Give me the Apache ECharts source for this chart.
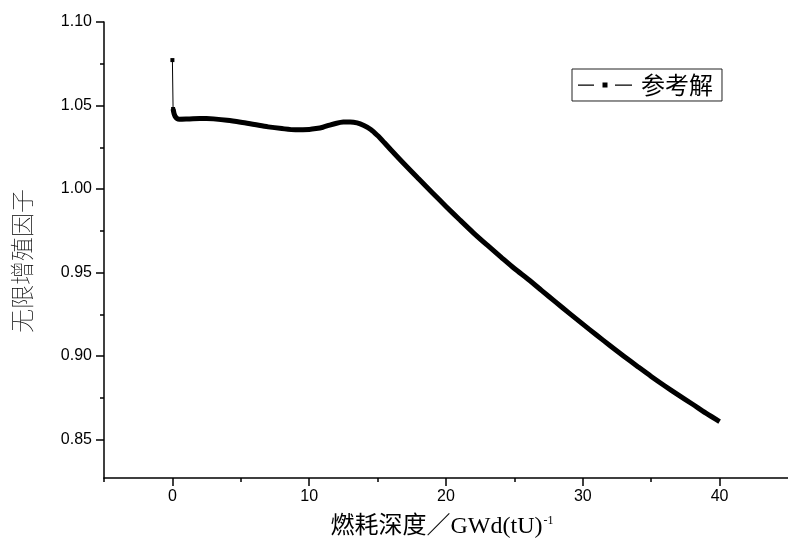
<!DOCTYPE html>
<html>
<head>
<meta charset="utf-8">
<script src="https://cdn.jsdelivr.net/npm/echarts@6/dist/echarts.min.js"></script>
<style>
  html, body { margin: 0; padding: 0; background: #fff; }
  #chart { width: 788px; height: 549px; }
</style>
</head>
<body>
<div id="chart"></div>
<script>
// Burnup (GWd/tU) and infinite multiplication factor of the reference solution
const burnup = [
  0, 0.05, 0.2, 0.5, 1.0, 1.5, 2.0, 2.5, 3.0, 4.0, 5.0, 6.0, 7.0, 8.0, 9.0,
  10.0, 10.5, 11.0, 11.5, 12.0, 12.5, 13.0, 13.5, 14.0, 14.5, 15.0, 15.5, 16.0,
  17.0, 18.0, 19.0, 20.0, 21.0, 22.0, 23.0, 24.0, 25.0, 26.0, 27.0, 28.0, 29.0,
  30.0, 31.0, 32.0, 33.0, 34.0, 35.0, 36.0, 37.0, 38.0, 39.0, 40.0
];
const kinf = [
  1.0772, 1.0479, 1.0435, 1.0418, 1.0419, 1.0421, 1.0422, 1.0422, 1.0420, 1.0412, 1.0400, 1.0386, 1.0372, 1.0362, 1.0355,
  1.0357, 1.0362, 1.0370, 1.0383, 1.0394, 1.0401, 1.0402, 1.0396, 1.0380, 1.0357, 1.0320, 1.0277, 1.0232,
  1.0145, 1.0061, 0.9978, 0.9896, 0.9816, 0.9738, 0.9665, 0.9594, 0.9524, 0.9460, 0.9392, 0.9324, 0.9257,
  0.9191, 0.9126, 0.9062, 0.8999, 0.8938, 0.8878, 0.8821, 0.8766, 0.8713, 0.8658, 0.8608
];

// Axis tick values
const xMajor = [0, 10, 20, 30, 40];
const xMinor = [-5, 5, 15, 25, 35];
const yMajor = [0.85, 0.90, 0.95, 1.00, 1.05, 1.10];
const yMinor = [0.875, 0.925, 0.975, 1.025, 1.075];

const seriesName = '参考解';
const xTitle = '燃耗深度／GWd(tU){sup|-1}';
const yTitle = '无限增殖因子';

const points = burnup.map((b, i) => [b, kinf[i]]);

const labelFont = '"Liberation Sans", Arial, sans-serif';
const cjkFont = '"Noto Sans CJK SC", sans-serif';
const axisLineStyle = { color: '#000', width: 1.5 };

const chart = echarts.init(document.getElementById('chart'), null, { renderer: 'canvas' });

chart.setOption({
  animation: false,
  backgroundColor: '#fff',
  grid: { left: 104, top: 22, width: 690, height: 456, containLabel: false },
  legend: {
    data: [{ name: seriesName, icon: 'path://M0,2h16v1.3h-16Z M24.5,0h5v5h-5Z M37,2h17v1.3h-17Z' }],
    left: 572,
    top: 69,
    itemWidth: 54,
    itemHeight: 5,
    itemGap: 0,
    padding: [4, 9, 4, 6],
    borderColor: '#222',
    borderWidth: 1,
    borderRadius: 0,
    textStyle: { fontFamily: cjkFont, fontSize: 24, color: '#000', padding: [0, 0, 0, 4] },
    itemStyle: { color: '#000' },
    selectedMode: false
  },
  xAxis: [
    {
      type: 'value', min: -5, max: 45, gridIndex: 0, position: 'bottom',
      axisLine: { show: true, onZero: false, lineStyle: axisLineStyle },
      axisTick: { show: true, length: 8, customValues: xMajor, lineStyle: axisLineStyle },
      axisLabel: { customValues: xMajor, color: '#000', fontSize: 16, fontFamily: labelFont, margin: 11 },
      splitLine: { show: false },
      name: xTitle,
      nameLocation: 'middle',
      nameGap: 37,
      nameTextStyle: {
        fontFamily: '"Liberation Serif", "Noto Sans CJK SC", serif',
        fontSize: 24, color: '#000', padding: [0, 8, 0, 0],
        rich: { sup: { fontSize: 12, verticalAlign: 'top', fontFamily: '"Liberation Serif", serif', color: '#000', padding: [0, 0, 12, 1] } }
      }
    },
    {
      type: 'value', min: -5, max: 45, gridIndex: 0, position: 'bottom',
      axisLine: { show: false, onZero: false },
      axisTick: { show: true, length: 4, customValues: xMinor, lineStyle: axisLineStyle },
      axisLabel: { show: false },
      splitLine: { show: false }
    }
  ],
  yAxis: [
    {
      type: 'value', min: 0.827, max: 1.10, position: 'left',
      axisLine: { show: true, onZero: false, lineStyle: axisLineStyle },
      axisTick: { show: true, length: 8, customValues: yMajor, lineStyle: axisLineStyle },
      axisLabel: {
        customValues: yMajor, color: '#000', fontSize: 16, fontFamily: labelFont, margin: 12,
        formatter: v => v.toFixed(2)
      },
      splitLine: { show: false },
      name: yTitle,
      nameLocation: 'middle',
      nameRotate: 90,
      nameGap: 70,
      nameTextStyle: { fontFamily: cjkFont, fontSize: 24, fontWeight: 'lighter', color: '#000', padding: [0, 22, 0, 0] }
    },
    {
      type: 'value', min: 0.827, max: 1.10, position: 'left',
      axisLine: { show: false, onZero: false },
      axisTick: { show: true, length: 4, customValues: yMinor, lineStyle: axisLineStyle },
      axisLabel: { show: false },
      splitLine: { show: false }
    }
  ],
  series: [
    {
      // thin connection between the first two points, with square markers
      name: seriesName,
      type: 'line',
      xAxisIndex: 0, yAxisIndex: 0,
      data: points.slice(0, 2),
      symbol: 'rect',
      symbolSize: 4,
      showSymbol: true,
      lineStyle: { color: '#000', width: 1 },
      itemStyle: { color: '#000' },
      silent: true,
      z: 3
    },
    {
      // densely sampled depletion curve
      name: seriesName,
      type: 'line',
      xAxisIndex: 0, yAxisIndex: 0,
      data: points.slice(1),
      showSymbol: false,
      symbol: 'rect',
      smooth: 0.3,
      lineStyle: { color: '#000', width: 5, join: 'round', cap: 'butt' },
      itemStyle: { color: '#000' },
      silent: true,
      z: 2
    }
  ]
});
</script>
</body>
</html>
